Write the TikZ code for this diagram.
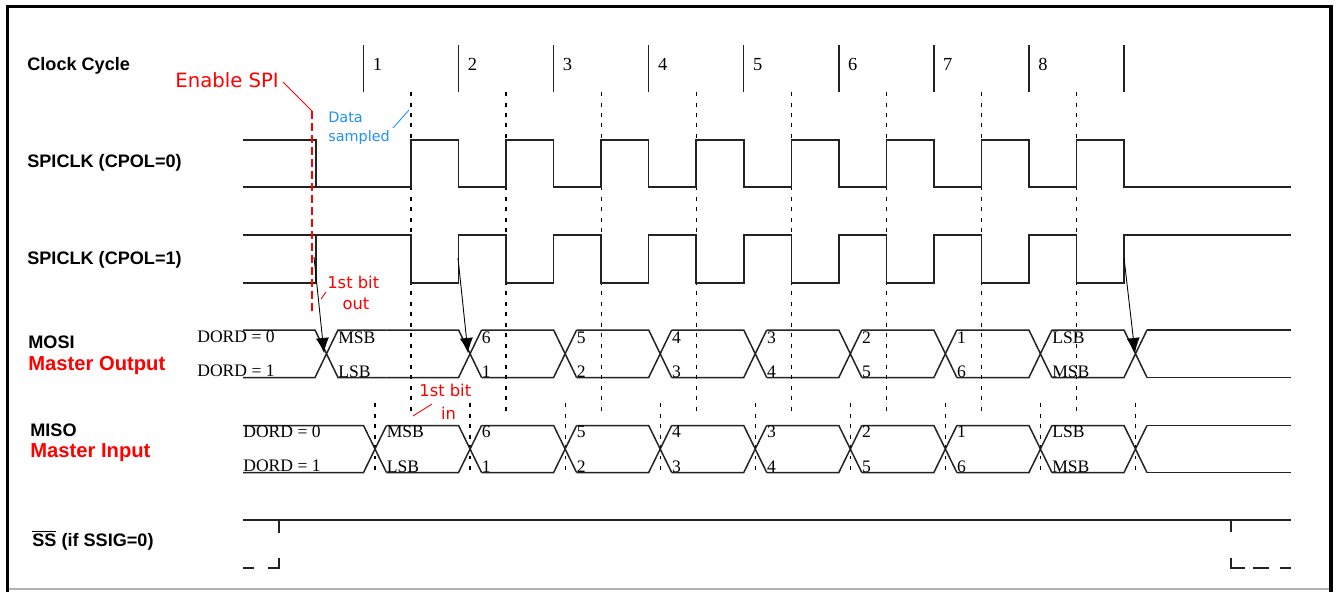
\documentclass[tikz,border=0pt]{standalone}
\usepackage{fontspec}
\setmainfont{Liberation Serif}
\setsansfont{Liberation Sans}
\newfontfamily\notefont{DejaVu Sans}
\usepackage{tikz}
\usetikzlibrary{arrows.meta}

\definecolor{spired}{RGB}{255,0,0}
\definecolor{sampblue}{RGB}{30,144,255}
\definecolor{wavegray}{RGB}{35,35,35}

\tikzset{
  wave/.style={draw=wavegray, line width=0.85pt},
  sampleline/.style={line width=0.7pt, dash pattern=on 0.08cm off 0.13cm},
  siglabel/.style={anchor=base west, inner sep=0pt, font=\sffamily\bfseries\fontsize{10.3}{12}\selectfont},
  redlabel/.style={anchor=base west, inner sep=0pt, text=spired, font=\sffamily\bfseries\fontsize{11.5}{13}\selectfont},
  bitlabel/.style={anchor=base west, inner sep=0pt, font=\fontsize{10}{12}\selectfont},
  note/.style={anchor=base west, inner sep=0pt, font=\notefont\fontsize{9.3}{11}\selectfont},
}

\begin{document}
\begin{tikzpicture}[x=0.02cm, y=-0.02cm, >={Latex[length=0.3cm,width=0.26cm]}]
  \useasboundingbox (0,0) rectangle (1341,592);
  % frame
  \draw[gray!60, line width=0.8pt] (7.5,589) -- (1331,589);
  \draw[line width=2pt] (7.5,592) -- (7.5,6.5) -- (1331,6.5) -- (1331,592);
  % signal names
  \node[siglabel] (clk)  at (27,70)  {Clock Cycle};
  \node[siglabel] (ck0)  at (27,167) {SPICLK (CPOL=0)};
  \node[siglabel] (ck1)  at (27,264) {SPICLK (CPOL=1)};
  \node[siglabel] (mosi) at (28,348) {MOSI};
  \node[redlabel] (mout) at (28,370) {Master Output};
  \node[siglabel] (miso) at (30,436) {MISO};
  \node[redlabel] (min)  at (30,457) {Master Input};
  \node[siglabel] (ss)   at (32,546) {$\overline{\hbox{SS}}$ (if SSIG=0)};
  % clock cycle ticks
  \foreach \k in {0,...,8}
    \draw[wave] ({363.5+95.06*\k},45) -- ++(0,47);
  \foreach \k in {1,...,8}
    \node[bitlabel, font=\fontsize{10.5}{12}\selectfont] (cyc\k) at ({363.5+95.06*(\k-1)+9},70) {\k};
  % sampling instants
  \foreach \k in {0,...,7}
    \draw[sampleline] ({411+95.06*\k},92) -- ({411+95.06*\k},414);
  \foreach \k in {0,...,8}
    \draw[sampleline] ({375+95.06*\k},403) -- ({375+95.06*\k},474);
  % SPICLK, CPOL=0
  \draw[wave] (243,140) -- (316,140) -- (316,187);
  \draw[wave] (243,187) foreach \k in {0,...,7} {
      -- ({411+95.06*\k},187) -- ({411+95.06*\k},140)
      -- ({458.6+95.06*\k},140) -- ({458.6+95.06*\k},187)} -- (1291,187);
  % SPICLK, CPOL=1
  \draw[wave] (243,283) -- (316,283) -- (316,235);
  \draw[wave] (243,235) foreach \k in {0,...,7} {
      -- ({411+95.06*\k},235) -- ({411+95.06*\k},283)
      -- ({458.6+95.06*\k},283) -- ({458.6+95.06*\k},235)} -- (1291,235);
  % MOSI bus
  \draw[wave] (243,330) -- (315,330) -- (338,377.5) -- (386.5,377.5)
              (243,377.5) -- (315,377.5) -- (338,330) -- (386.5,330);
  % MISO bus
  \draw[wave] (243,425.5) -- (363.5,425.5) -- (386.5,472.5)
              (243,472.5) -- (363.5,472.5) -- (386.5,425.5);
  \foreach \k in {1,...,8} {
    \pgfmathsetmacro{\xa}{363.5+95.06*(\k-1)+23}
    \pgfmathsetmacro{\xb}{363.5+95.06*\k}
    \draw[wave] (\xa,330) -- (\xb,330) -- (\xb+23,377.5)
                (\xa,377.5) -- (\xb,377.5) -- (\xb+23,330);
    \draw[wave] (\xa,425.5) -- (\xb,425.5) -- (\xb+23,472.5)
                (\xa,472.5) -- (\xb,472.5) -- (\xb+23,425.5);
  }
  \draw[wave] (1147,330) -- (1291,330) (1147,377.5) -- (1291,377.5);
  \draw[wave] (1147,425.5) -- (1291,425.5) (1147,472.5) -- (1291,472.5);
  % bit order labels
  \node[bitlabel] (mo0) at (197,342.5) {DORD = 0};
  \node[bitlabel] (mo1) at (197,376.5) {DORD = 1};
  \node[bitlabel] (mi0) at (243,437) {DORD = 0};
  \node[bitlabel] (mi1) at (243,471.5) {DORD = 1};
  \node[bitlabel] (moa) at (338,343) {MSB};
  \node[bitlabel] (mob) at (338,377) {LSB};
  \foreach \k/\ta/\tb in {1/6/1, 2/5/2, 3/4/3, 4/3/4, 5/2/5, 6/1/6, 7/LSB/MSB} {
    \node[bitlabel] (moa\k) at ({386.5+95.06*\k},343) {\ta};
    \node[bitlabel] (mob\k) at ({386.5+95.06*\k},377) {\tb};
  }
  \foreach \k/\ta/\tb in {0/MSB/LSB, 1/6/1, 2/5/2, 3/4/3, 4/3/4, 5/2/5, 6/1/6, 7/LSB/MSB} {
    \node[bitlabel] (mia\k) at ({386.5+95.06*\k},437.5) {\ta};
    \node[bitlabel] (mib\k) at ({386.5+95.06*\k},472) {\tb};
  }
  % clock edge to data change
  \draw[->, line width=0.5pt] (314,257) -- (324,353);
  \draw[->, line width=0.5pt] (458,258) -- (468,353);
  \draw[->, line width=0.5pt] (1124,258) -- (1135,353);
  % SS
  \draw[wave] (243,520) -- (1291,520) (279,520) -- (279,533) (1231,520) -- (1231,532);
  \draw[wave, dash pattern=on 0.22cm off 0.28cm] (243,568) -- (268,568);
  \draw[wave] (268,568) -- (279,568) -- (279,558);
  \draw[wave] (1231,558) -- (1231,568) -- (1245,568);
  \draw[wave, dash pattern=on 0.32cm off 0.22cm] (1253,568) -- (1291,568);
  % enable SPI
  \draw[spired, line width=0.8pt, dash pattern=on 0.16cm off 0.08cm] (312,111) -- (312,312);
  \node[note, text=spired, font=\notefont\fontsize{11.2}{13}\selectfont] (enspi) at (175,87) {Enable SPI};
  \coordinate (enpt) at (312,111);
  \draw[spired, line width=0.5pt] (283,82) -- (enpt);
  % data sampled
  \node[note, text=sampblue, font=\notefont\fontsize{8.2}{10}\selectfont] (dsa) at (328,122.5) {Data};
  \node[note, text=sampblue, font=\notefont\fontsize{8.2}{10}\selectfont] (dsb) at (328,141.5) {sampled};
  \coordinate (smpt) at (409,110);
  \draw[sampblue, line width=0.5pt] (393,128) -- (smpt);
  % first bit out / in
  \node[note, text=spired] (outa) at (327,288) {1st bit};
  \node[note, text=spired, anchor=base] (outb) at (356,309) {out};
  \draw[spired, line width=0.5pt] (321,299) -- (326,292);
  \node[note, text=spired] (ina) at (419,396.5) {1st bit};
  \node[note, text=spired, anchor=base] (inb) at (448.5,419) {in};
  \draw[spired, line width=0.5pt] (413,416) -- (432,404);
\end{tikzpicture}
\end{document}
